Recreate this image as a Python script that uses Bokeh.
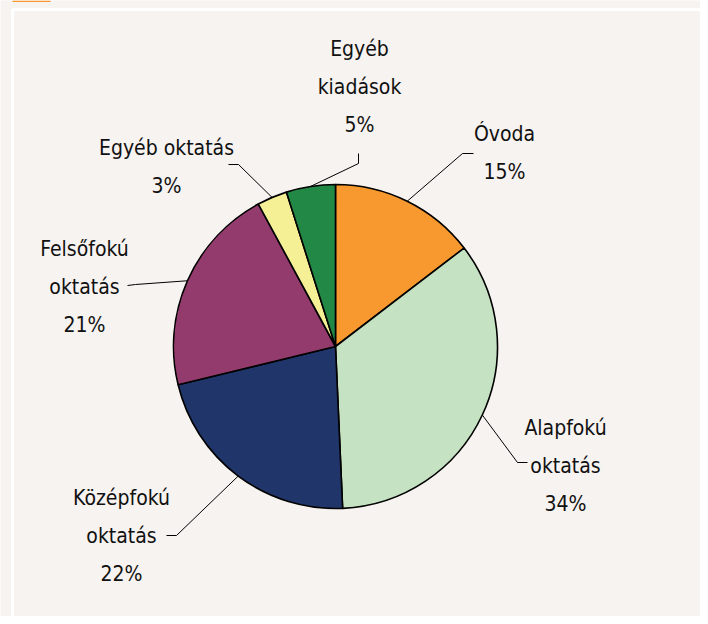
import math
from bokeh.plotting import figure
from bokeh.models import ColumnDataSource, Range1d
from bokeh.core.properties import value
from bokeh.embed import file_html
from bokeh.resources import INLINE

# ---- data ----
categories = ["Óvoda", "Alapfokú oktatás", "Középfokú oktatás",
              "Felsőfokú oktatás", "Egyéb oktatás", "Egyéb kiadások"]
shares = [14.6, 34.7, 21.9, 20.9, 3.0, 4.9]
pct_labels = ["15%", "34%", "22%", "21%", "3%", "5%"]
label_lines = [["Óvoda"], ["Alapfokú", "oktatás"], ["Középfokú", "oktatás"],
               ["Felsőfokú", "oktatás"], ["Egyéb oktatás"], ["Egyéb", "kiadások"]]
colors = ["#F7992F", "#C5E3C2", "#20366B", "#943B6D", "#F5F096", "#218845"]

# ---- layout (screen pixel coordinates of the picture) ----
W, H = 700, 616
CX, CY, R = 335, 346, 162
label_x = [504, 565, 121, 84, 166, 359]
label_y0 = [133, 427, 497, 248, 147, 48]
line_gap = 38
elbow = [(462, 153), (517, 462), (176, 535), (135, 284), (238, 164), (358, 163)]
tail = [(473, 153), (527, 462), (166, 535), (127, 285), (228, 164), (358, 153)]
FONT = "'Liberation Sans Narrow', 'Arial Narrow', 'DejaVu Sans Condensed', sans-serif"
BG = "#F7F3F0"


def sy(y):
    return 624 - y


p = figure(width=W, height=H, output_backend="svg", toolbar_location=None,
           x_range=Range1d(0, 700), y_range=Range1d(8, 624),
           min_border=0, outline_line_color=None,
           background_fill_color=BG, border_fill_color=BG)
p.axis.visible = False
p.grid.visible = False

# white frame and small orange tab
p.line(x=[12, 12, 705, 705], y=[sy(700), sy(9), sy(9), sy(700)],
       line_color="white", line_width=3)
p.quad(left=12, right=50, top=sy(0), bottom=sy(1.5), fill_color="#F7992F",
       line_color=None)

# pie
total = sum(shares)
starts, ends, mids = [], [], []
cum = 0.0
for s in shares:
    a0 = math.pi / 2 - 2 * math.pi * cum / total
    cum += s
    a1 = math.pi / 2 - 2 * math.pi * cum / total
    starts.append(a0)
    ends.append(a1)
    mids.append((a0 + a1) / 2)

src = ColumnDataSource(dict(start=starts, end=ends, color=colors, cat=categories))
p.wedge(x=CX, y=sy(CY), radius=R, start_angle="start", end_angle="end",
        direction="clock", fill_color="color", line_color="black",
        line_width=1.6, source=src)

# leader lines
xs, ys = [], []
for i, m in enumerate(mids):
    px = CX + R * math.cos(m)
    py = sy(CY) + R * math.sin(m)
    xs.append([px, elbow[i][0], tail[i][0]])
    ys.append([py, sy(elbow[i][1]), sy(tail[i][1])])
p.multi_line(xs=xs, ys=ys, line_color="black", line_width=1)

# labels
tx, ty, tt = [], [], []
for i in range(len(categories)):
    lines = label_lines[i] + [pct_labels[i]]
    for j, t in enumerate(lines):
        tx.append(label_x[i])
        ty.append(sy(label_y0[i] + j * line_gap))
        tt.append(t)
p.text(x=tx, y=ty, text=tt, text_align="center", text_baseline="middle",
       text_font=value(FONT), text_font_size="21px", text_color="#111111")

html = file_html(p, INLINE)
html = html.replace("<body>", '<body style="background:%s">' % BG, 1)
open("out.html", "w").write(html)
